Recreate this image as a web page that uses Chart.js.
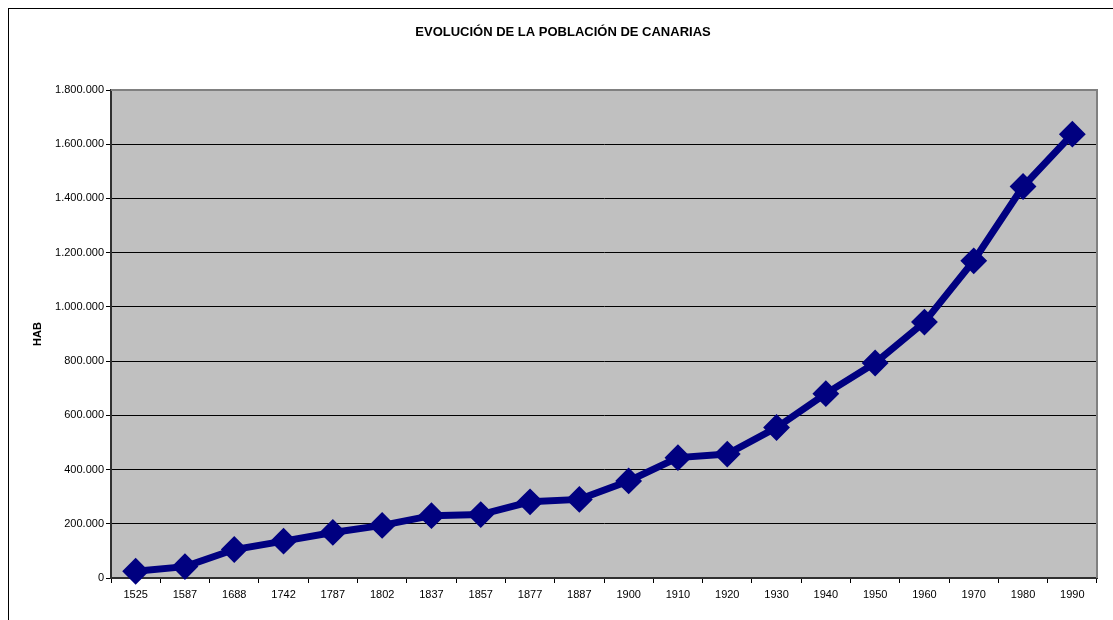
<!DOCTYPE html>
<html>
<head>
<meta charset="utf-8">
<script src="https://cdn.jsdelivr.net/npm/chart.js@4/dist/chart.umd.min.js"></script>
<style>
  html, body { margin: 0; padding: 0; background: #fff; }
  #wrap { width: 1113px; height: 620px; position: relative; }
</style>
</head>
<body>
<div id="wrap"><canvas id="grafico"></canvas></div>
<script>
const anios = ["1525","1587","1688","1742","1787","1802","1837","1857","1877","1887",
               "1900","1910","1920","1930","1940","1950","1960","1970","1980","1990"];
const poblacion = [25000, 42000, 105000, 136000, 168000, 194000, 230000, 234000, 281000, 290000,
                   358000, 444000, 457000, 555000, 680000, 793000, 944000, 1170000, 1444000, 1637000];
const yMax = 1800000;
const yPaso = 200000;

const fuente = "'Liberation Sans', Arial, sans-serif";

function miles(v){
    return v.toString().replace(/\B(?=(\d{3})+(?!\d))/g, ".");
}

// fondo gris del area de trazado y marco exterior
const fondoExcel = {
    id: 'fondoExcel',
    beforeDraw(chart){
        const ctx = chart.ctx;
        const a = chart.chartArea;
        ctx.save();
        ctx.fillStyle = '#fff';
        ctx.fillRect(0, 0, chart.width, chart.height);
        ctx.strokeStyle = '#000';
        ctx.lineWidth = 1;
        ctx.strokeRect(8.5, 8.5, chart.width + 50, chart.height + 50);
        ctx.fillStyle = '#c0c0c0';
        ctx.fillRect(a.left, a.top, a.right - a.left, a.bottom - a.top);
        ctx.restore();
    },
    beforeDatasetsDraw(chart){
        const ctx = chart.ctx;
        const a = chart.chartArea;
        ctx.save();
        ctx.strokeStyle = '#808080';
        ctx.lineWidth = 2;
        ctx.beginPath();
        ctx.moveTo(a.left, a.top);
        ctx.lineTo(a.right, a.top);
        ctx.lineTo(a.right, a.bottom);
        ctx.stroke();
        ctx.restore();
    }
};

const ctx = document.getElementById('grafico').getContext('2d');
new Chart(ctx, {
    type: 'line',
    data: {
        labels: anios,
        datasets: [{
            data: poblacion,
            borderColor: '#000080',
            backgroundColor: '#000080',
            borderWidth: 7,
            tension: 0,
            pointStyle: 'rectRot',
            pointRadius: 12,
            pointBorderWidth: 2,
            pointBackgroundColor: '#000080',
            pointBorderColor: '#000080',
            clip: false
        }]
    },
    options: {
        responsive: true,
        maintainAspectRatio: false,
        animation: false,
        layout: { padding: { left: 15, right: 2, top: 24.5, bottom: 0 } },
        plugins: {
            legend: { display: false },
            tooltip: { enabled: false },
            title: {
                display: true,
                text: 'EVOLUCIÓN DE LA POBLACIÓN DE CANARIAS',
                color: '#000',
                font: { family: fuente, size: 13, weight: 'bold' },
                padding: { top: 0, bottom: 49.9 }
            }
        },
        scales: {
            x: {
                offset: true,
                grid: {
                    offset: true,
                    drawOnChartArea: false,
                    drawTicks: true,
                    tickLength: 5,
                    color: '#000'
                },
                border: { color: '#303030', width: 2 },
                ticks: {
                    color: '#000',
                    font: { family: fuente, size: 11 },
                    padding: 5,
                    maxRotation: 0,
                    autoSkip: false
                },
                afterFit(scale){ scale.height = 42; }
            },
            y: {
                min: 0,
                max: yMax,
                grid: {
                    color: '#000',
                    lineWidth: 1,
                    tickLength: 5
                },
                border: { color: '#303030', width: 2 },
                ticks: {
                    stepSize: yPaso,
                    color: '#000',
                    padding: 2,
                    font: { family: fuente, size: 11 },
                    callback: (v) => miles(v)
                },
                title: {
                    display: true,
                    text: 'HAB',
                    color: '#000',
                    font: { family: fuente, size: 11, weight: 'bold' },
                    padding: { top: 16.4, bottom: 0 }
                },
                afterFit(scale){ scale.width = 96; }
            },
            y2: {
                position: 'right',
                display: true,
                grid: { display: false, drawTicks: false },
                border: { display: false },
                ticks: { display: false },
                afterFit(scale){ scale.width = 14; }
            }
        }
    },
    plugins: [fondoExcel]
});
</script>
</body>
</html>
